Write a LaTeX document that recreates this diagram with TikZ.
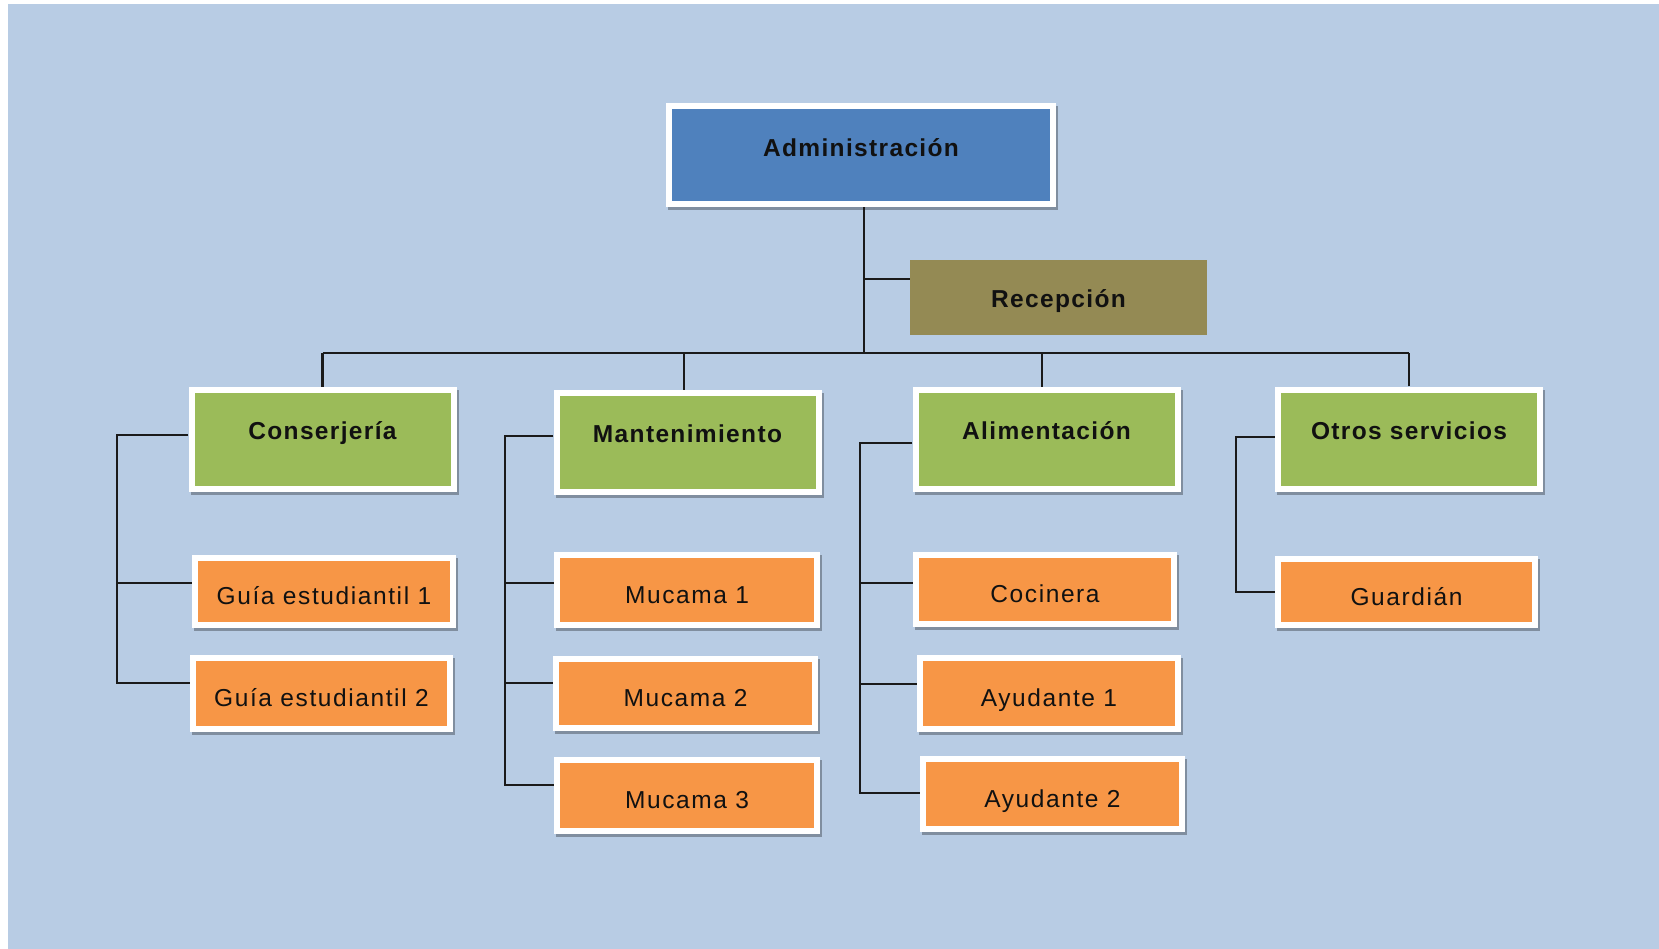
\documentclass[tikz,border=0pt]{standalone}
\usepackage{fontspec}
\newfontfamily\orgreg[LetterSpace=6.5]{Liberation Sans}
\newfontfamily\orgbld[LetterSpace=5.5]{Liberation Sans}
\usetikzlibrary{shadows,calc}
\definecolor{bgblue}{HTML}{B8CCE4}
\definecolor{admblue}{HTML}{4F81BD}
\definecolor{recol}{HTML}{948A54}
\definecolor{grn}{HTML}{9BBB59}
\definecolor{orng}{HTML}{F79646}
\definecolor{lnc}{HTML}{1A1A1A}
\definecolor{txt}{HTML}{111111}
\tikzset{
  framed/.style={fill=white, draw=none, inner sep=0pt, text=txt,
    drop shadow={shadow xshift=2pt, shadow yshift=-3pt, fill=black, opacity=0.3},
    path picture={\fill[#1] ([shift={(6pt,6pt)}]path picture bounding box.south west) rectangle ([shift={(-6pt,-6pt)}]path picture bounding box.north east);}},
  admbox/.style={framed=admblue, minimum width=390pt, minimum height=104pt,
    text height=12pt, text depth=8pt, font=\orgbld\bfseries\fontsize{24.5}{28}\selectfont},
  grnbox/.style={framed=grn, minimum width=268pt, minimum height=105pt,
    text height=10pt, text depth=10pt, font=\orgbld\bfseries\fontsize{24.5}{28}\selectfont},
  orbox/.style={framed=orng, minimum width=265pt, minimum height=75pt,
    text height=29pt, text depth=3pt, font=\orgreg\fontsize{24.5}{28}\selectfont},
  recbox/.style={fill=recol, draw=none, inner sep=0pt, text=txt, minimum width=297pt, minimum height=75pt,
    text height=22pt, text depth=2pt, font=\orgbld\bfseries\fontsize{24.5}{28}\selectfont},
  conn/.style={draw=lnc, line width=2.1pt}
}
\begin{document}
\begin{tikzpicture}[x=1pt,y=-1pt]
\useasboundingbox (0,0) rectangle (1659,949);
\fill[bgblue] (8,4) rectangle (1659,949);

\coordinate (bus) at (864,353);
\coordinate (bx1) at (117,0);
\coordinate (bx2) at (505,0);
\coordinate (bx3) at (860,0);
\coordinate (bx4) at (1236,0);

\path
  (861,155) node[admbox] (adm) {Administración}
  (1058.5,297.5) node[recbox] (recep) {Recepción}
  (322.5,439.5) node[grnbox] (cons) {Conserjería}
  (687.5,442.5) node[grnbox] (mant) {Mantenimiento}
  (1046.5,439.5) node[grnbox] (alim) {Alimentación}
  (1409,439) node[grnbox] (otros) {Otros servicios}
  (324,591.5) node[orbox, minimum width=264pt, minimum height=73pt] (g1) {Guía estudiantil 1}
  (321.5,693.5) node[orbox, minimum width=263pt, minimum height=77pt] (g2) {Guía estudiantil 2}
  (687,590) node[orbox, minimum width=266pt, minimum height=76pt] (m1) {Mucama 1}
  (685.5,693.5) node[orbox] (m2) {Mucama 2}
  (687,795.5) node[orbox, minimum width=266pt, minimum height=77pt] (m3) {Mucama 3}
  (1045,589.5) node[orbox, minimum width=264pt] (coc) {Cocinera}
  (1049,693.5) node[orbox, minimum width=264pt, minimum height=77pt] (ay1) {Ayudante 1}
  (1052.5,794) node[orbox, minimum height=76pt] (ay2) {Ayudante 2}
  (1406.5,592) node[orbox, minimum width=263pt, minimum height=72pt] (guard) {Guardián};

% main tree
\coordinate (admS) at ([xshift=3pt]adm.south);
\coordinate (consN) at (cons.north);
\coordinate (mantN) at ([xshift=-3.5pt]mant.north);
\coordinate (alimN) at ([xshift=-4.5pt]alim.north);
\coordinate (otrosN) at (otros.north);
\draw[conn] (admS) -- (admS |- bus);
\draw[conn] (consN |- bus) -- (otrosN |- bus);
\draw[conn] (consN) -- (consN |- bus);
\draw[conn] (mantN) -- (mantN |- bus);
\draw[conn] (alimN) -- (alimN |- bus);
\draw[conn] (otrosN) -- (otrosN |- bus);
\coordinate (recj) at ($(recep.north west)!0.25!(recep.south west)$);
\draw[conn] (recj) -- (recj -| admS);

% bracket anchor points
\coordinate (consL) at ([yshift=4.5pt]cons.west);
\coordinate (g1L) at ([yshift=8.5pt]g1.west);
\coordinate (g2L) at ([yshift=10.5pt]g2.west);
\coordinate (mantL) at ([yshift=6.5pt]mant.west);
\coordinate (m1L) at ([yshift=7pt]m1.west);
\coordinate (m2L) at ([yshift=10.5pt]m2.west);
\coordinate (m3L) at ([yshift=10.5pt]m3.west);
\coordinate (alimL) at ([yshift=-3.5pt]alim.west);
\coordinate (cocL) at ([yshift=6.5pt]coc.west);
\coordinate (ay1L) at ([yshift=9.5pt]ay1.west);
\coordinate (ay2L) at ([yshift=1pt]ay2.west);
\coordinate (otrosL) at ([yshift=2pt]otros.west);
\coordinate (guardL) at (guard.west);

% Conserjería
\draw[conn] (consL) -| (g2L -| bx1) -- (g2L);
\draw[conn] (g1L -| bx1) -- (g1L);
% Mantenimiento
\draw[conn] (mantL) -| (m3L -| bx2) -- (m3L);
\draw[conn] (m1L -| bx2) -- (m1L);
\draw[conn] (m2L -| bx2) -- (m2L);
% Alimentación
\draw[conn] (alimL) -| (ay2L -| bx3) -- (ay2L);
\draw[conn] (cocL -| bx3) -- (cocL);
\draw[conn] (ay1L -| bx3) -- (ay1L);
% Otros servicios
\draw[conn] (otrosL) -| (guardL -| bx4) -- (guardL);
\end{tikzpicture}
\end{document}
